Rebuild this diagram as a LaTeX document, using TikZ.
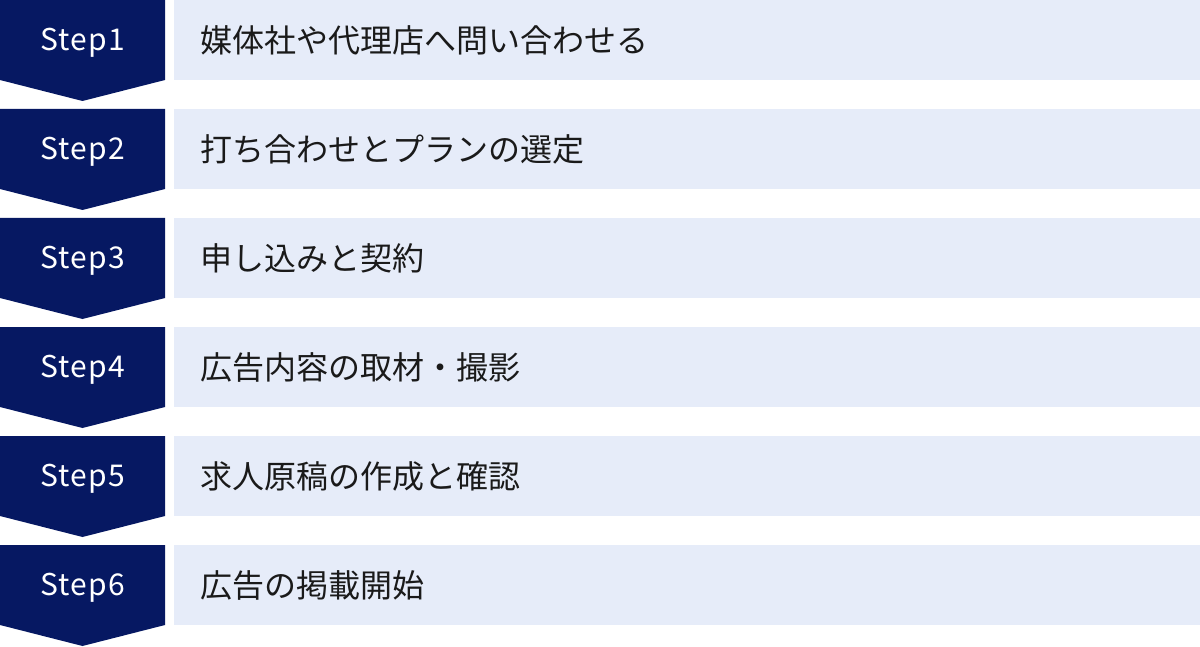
\documentclass[tikz,border=0pt]{standalone}
\usepackage{fontspec}
\setmainfont{Noto Sans CJK JP}
\newfontfamily\jpfont{Noto Sans CJK JP}
\newfontfamily\stepfont[LetterSpace=4]{Noto Sans CJK JP}
\definecolor{navy}{RGB}{6,24,98}
\definecolor{pale}{RGB}{230,236,249}
\definecolor{ink}{RGB}{26,26,26}
\tikzset{
  stepshape/.style={fill=navy, draw=none},
  panel/.style={fill=pale, draw=none},
  steplabel/.style={text=white, font=\stepfont\fontsize{30}{34}\selectfont, inner sep=0pt, anchor=center},
  panellabel/.style={text=ink, font=\jpfont\fontsize{32}{36}\selectfont, inner sep=0pt, anchor=west},
}
\begin{document}
\begin{tikzpicture}[x=1pt,y=-1pt]
\useasboundingbox (0,0) rectangle (1200,647);
\foreach \k/\txt in {0/媒体社や代理店へ問い合わせる,1/打ち合わせとプランの選定,2/申し込みと契約,3/広告内容の取材・撮影,4/求人原稿の作成と確認,5/広告の掲載開始}{
  \pgfmathsetmacro{\t}{109*\k}
  \fill[stepshape] (0,\t) -- (165,\t) -- (165,\t+80) -- (82.5,\t+101) -- (0,\t+80) -- cycle;
  \fill[panel] (174,\t) rectangle (1200,\t+80);
  \pgfmathtruncatemacro{\n}{\k+1}
  \node[steplabel] (step\n) at (82.5,\t+43) {Step\n};
  \node[panellabel] (text\n) at (200,\t+40) {\txt};
}
\end{tikzpicture}
\end{document}
